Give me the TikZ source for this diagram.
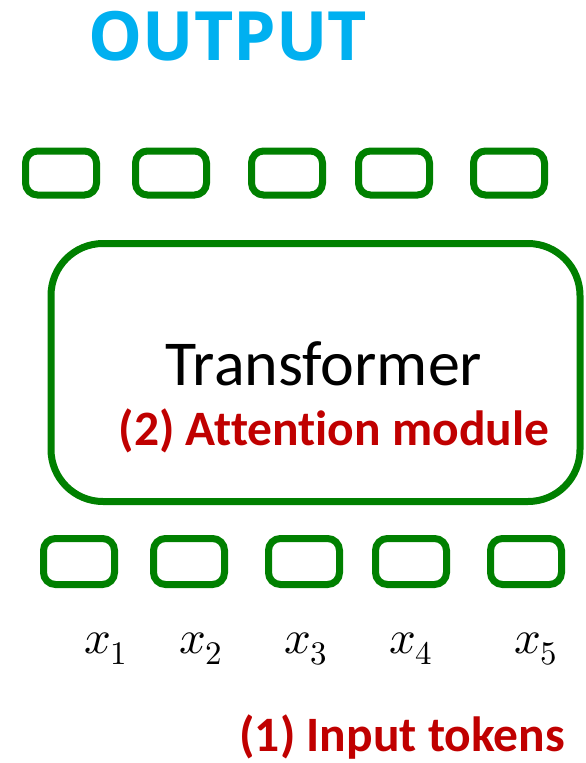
\documentclass[tikz,border=0pt]{standalone}
\usepackage{fontspec}
\usepackage{unicode-math}
\setmainfont{Carlito}[Ligatures=NoCommon]
\setmathfont{Latin Modern Math}
\newfontfamily\titlefont{Open Sans}
\usetikzlibrary{positioning}
\definecolor{outblue}{HTML}{00B0F0}
\definecolor{tokgreen}{HTML}{008000}
\definecolor{notered}{HTML}{C00000}

\tikzset{
  tokbox/.style={draw=tokgreen, line width=7pt, rounded corners=12pt, minimum width=71pt, minimum height=44pt, inner sep=0pt},
  bigbox/.style={draw=tokgreen, line width=7pt, rounded corners=52pt, minimum width=529pt, minimum height=258pt, inner sep=0pt},
  redlabel/.style={text=notered, font=\bfseries\fontsize{49.5}{52}\selectfont, inner sep=0pt},
  toklabel/.style={font=\fontsize{47}{50}\selectfont, inner sep=0pt, anchor=base}
}

\begin{document}
\begin{tikzpicture}[x=1pt, y=-1pt]
  \useasboundingbox (0,0) rectangle (586,763);

  % title
  \node[text=outblue, font=\titlefont\bfseries\fontsize{68}{72}\selectfont, inner sep=0pt, anchor=base] (out) at (228,60) {OUTPUT};

  % output tokens
  \foreach \i/\x in {1/61, 2/171, 3/287, 4/394, 5/509}
    \node[tokbox] (o\i) at (\x,173) {};

  % transformer block
  \node[bigbox] (tf) at (315.5,372.5) {};
  \node[font=\fontsize{64}{68}\selectfont, inner sep=0pt, anchor=base] (tfname) at (324,385) {Transformer};
  \node[redlabel, anchor=base] (attn) at (334,445) {(2) Attention module};

  % input tokens
  \foreach \i/\x in {1/79, 2/189, 3/304, 4/411, 5/526}
    \node[tokbox, minimum height=46pt] (t\i) at (\x,561.5) {};

  \foreach \i/\x in {1/106, 2/201, 3/306, 4/411, 5/536}
    \node[toklabel] (x\i) at (\x,653) {$x_{\i}$};

  \node[redlabel, anchor=base east] (inp) at (565,751) {(1) Input tokens};
\end{tikzpicture}
\end{document}
